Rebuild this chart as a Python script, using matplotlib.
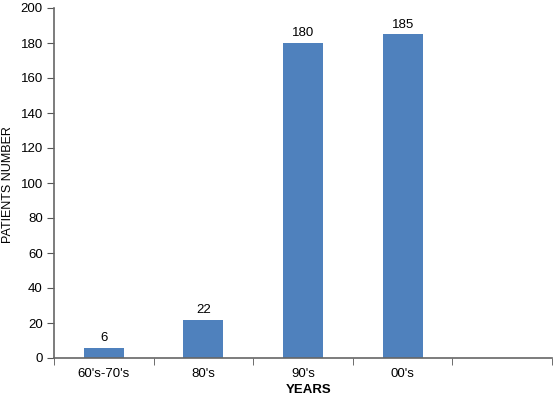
import numpy as np
import matplotlib.pyplot as plt

plt.rcParams['font.family'] = ['Liberation Sans', 'DejaVu Sans']

categories = ["60's-70's", "80's", "90's", "00's", ""]
patients = [6, 22, 180, 185]

fig = plt.figure(figsize=(5.53, 3.98), dpi=100)
ax = fig.add_axes([54 / 553, 40 / 398, 498 / 553, 350 / 398])

x = np.arange(len(categories))
xs = x[:len(patients)]
ax.bar(xs, patients, width=0.4, color='#4f81bd')
for xi, v in zip(xs, patients):
    ax.text(xi, v + 2, str(v), ha='center', va='bottom', fontsize=9.5)

ax.set_xlim(-0.5, len(categories) - 0.5)
ax.set_ylim(0, 200)
ax.set_yticks(range(0, 201, 20))
ax.set_xticks(x)
ax.set_xticklabels(categories)
ax.set_xticks(np.arange(-0.5, len(categories), 1), minor=True)
ax.tick_params(axis='x', which='major', length=0, pad=7, labelsize=9.5)
ax.tick_params(axis='x', which='minor', length=5, color='#555555', direction='out')
ax.tick_params(axis='y', length=5, color='#555555', labelsize=9.5, pad=3)

for s in ['top', 'right']:
    ax.spines[s].set_visible(False)
for s in ['left', 'bottom']:
    ax.spines[s].set_color('#666666')
    ax.spines[s].set_linewidth(1.2)

fig.text(309 / 553, 1 - 390 / 398, 'YEARS', fontweight='bold', fontsize=9.5,
         ha='center', va='center')
fig.text(8 / 553, 1 - 185 / 398, 'PATIENTS NUMBER', fontsize=9, rotation=90,
         ha='center', va='center')

fig.savefig('out.png', dpi=100)
